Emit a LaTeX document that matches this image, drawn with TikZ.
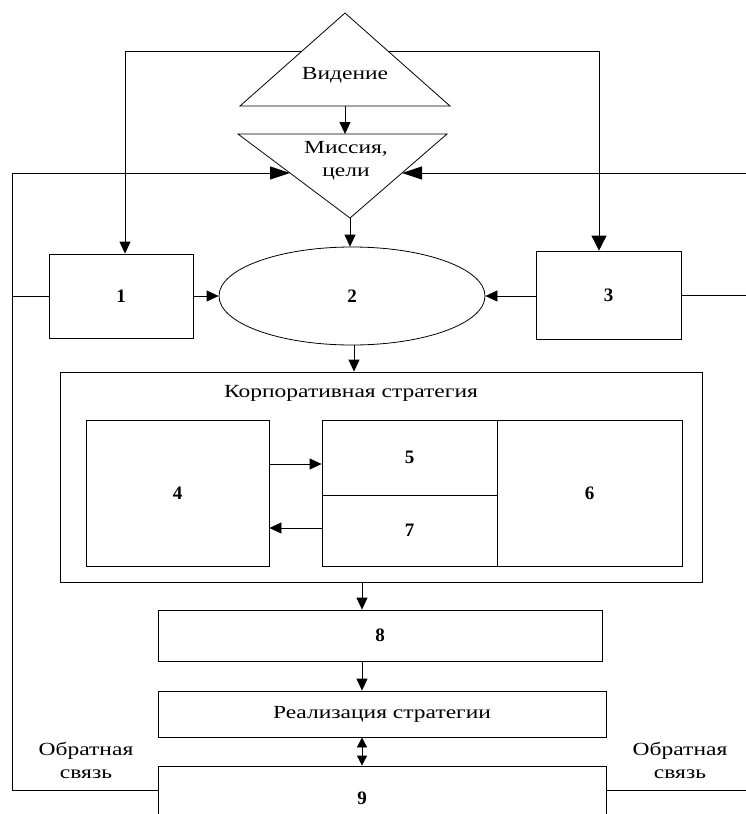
\documentclass[tikz,border=0pt]{standalone}
\usepackage{fontspec}
\setmainfont{Liberation Serif}
\newfontfamily\wfont[FakeStretch=1.27]{Liberation Serif}
\usetikzlibrary{arrows.meta,shapes.geometric}
\begin{document}
\begin{tikzpicture}[x=1pt,y=-1pt,
  line width=0.8pt,
  box/.style={draw, rectangle, inner sep=0pt, font=\fontsize{19}{22}\selectfont\bfseries},
  lbl/.style={inner sep=0pt, align=center, font=\wfont\fontsize{18.5}{23}\selectfont},
  arr/.style={-{Triangle[length=12pt,width=11pt]}},
  arrb/.style={-{Triangle[length=15pt,width=15pt]}},
  bigarr/.style={-{Triangle[length=20pt,width=13pt]}},
  dbl/.style={{Triangle[length=10pt,width=10pt]}-{Triangle[length=10pt,width=10pt]}}
]
\useasboundingbox (0,0) rectangle (746,814);
\clip (0,0) rectangle (746,814);
\fill[white] (0,0) rectangle (746,814);

% vision triangle
\coordinate (vA) at (345,13);
\coordinate (vL) at (240,106);
\coordinate (vR) at (450,106);
\coordinate (vB) at (345,106);
\draw (vA) -- (vL) -- (vR) -- cycle;
\node[lbl] (vis) at (345,75) {Видение};
\coordinate (vLs) at (302,51);
\coordinate (vRs) at (388,51);

% mission triangle
\coordinate (mL) at (238,134);
\coordinate (mR) at (447,134);
\coordinate (mB) at (350,218);
\coordinate (mT) at (345,134);
\draw (mL) -- (mR) -- (mB) -- cycle;
\node[lbl] (mis) at (346,161) {Миссия,\\цели};
\coordinate (mLs) at (290,173);
\coordinate (mRs) at (402,173);

% row of 1, 2, 3
\node[box, minimum width=144pt, minimum height=84pt] (b1) at (121,296) {1};
\node[draw, ellipse, inner sep=0pt, minimum width=266pt, minimum height=98pt,
      font=\fontsize{19}{22}\selectfont\bfseries] (ell) at (352,296) {2};
\node[box, minimum width=145pt, minimum height=88pt] (b3) at (608.5,295) {3};

% corporate strategy
\node[box, minimum width=642pt, minimum height=210pt] (corp) at (381,477) {};
\node[lbl] (corpt) at (351,393) {Корпоративная стратегия};
\node[box, minimum width=183pt, minimum height=146pt] (b4) at (177.5,493) {4};
\node[box, minimum width=175pt, minimum height=75pt] (b5) at (409.5,457.5) {5};
\node[box, minimum width=175pt, minimum height=71pt] (b7) at (409.5,530.5) {7};
\node[box, minimum width=185pt, minimum height=146pt] (b6) at (589.5,493) {6};

% lower boxes
\node[box, minimum width=444pt, minimum height=51pt] (b8) at (380,635.5) {8};
\node[box, minimum width=448pt, minimum height=46pt, font=\wfont\fontsize{18.5}{22}\selectfont] (real) at (382,714) {Реализация стратегии};
\node[box, minimum width=448pt, minimum height=64pt] (b9) at (382,798) {};
\node[inner sep=0pt, font=\fontsize{19}{22}\selectfont\bfseries] (n9) at (362,798) {9};

\node[lbl] (fbl) at (86,760) {Обратная\\связь};
\node[lbl] (fbr) at (680,760) {Обратная\\связь};

% feedback frame
\coordinate (lx) at (12,0);
\coordinate (rx) at (746,0);
\coordinate (fy) at (0,790);
\draw[bigarr] (b9.west |- fy) -- (lx |- fy) -- (lx |- mLs) -- (mLs);
\draw[bigarr] (b9.east |- fy) -- (rx |- fy) -- (rx |- mRs) -- (mRs);
\draw (lx |- b1.west) -- (b1.west);
\draw (b3.east) -- (rx |- b3.east);

% vision to boxes 1 and 3
\coordinate (c1) at (125,0);
\coordinate (c3) at (599,0);
\draw[arr] (vLs) -- (c1 |- vLs) -- (c1 |- b1.north);
\draw[arrb] (vRs) -- (c3 |- vRs) -- (c3 |- b3.north);

% main flow
\draw[arr] (vB) -- (mT);
\draw[arr] (mB) -- (mB |- ell.north);
\draw[arr] (b1.east) -- (ell.west);
\draw[arr] (b3.west |- ell.east) -- (ell.east);
\coordinate (ex) at (354,0);
\draw[arr] (ex |- ell.south) -- (ex |- corp.north);
\draw[arr] (b4.east |- 0,464) -- (b5.west |- 0,464);
\draw[arr] (b7.west |- 0,528) -- (b4.east |- 0,528);
\coordinate (ax) at (362,0);
\draw[arr] (ax |- corp.south) -- (ax |- b8.north);
\draw[arr] (ax |- b8.south) -- (ax |- real.north);
\draw[dbl] (ax |- real.south) -- (ax |- b9.north);
\end{tikzpicture}
\end{document}
